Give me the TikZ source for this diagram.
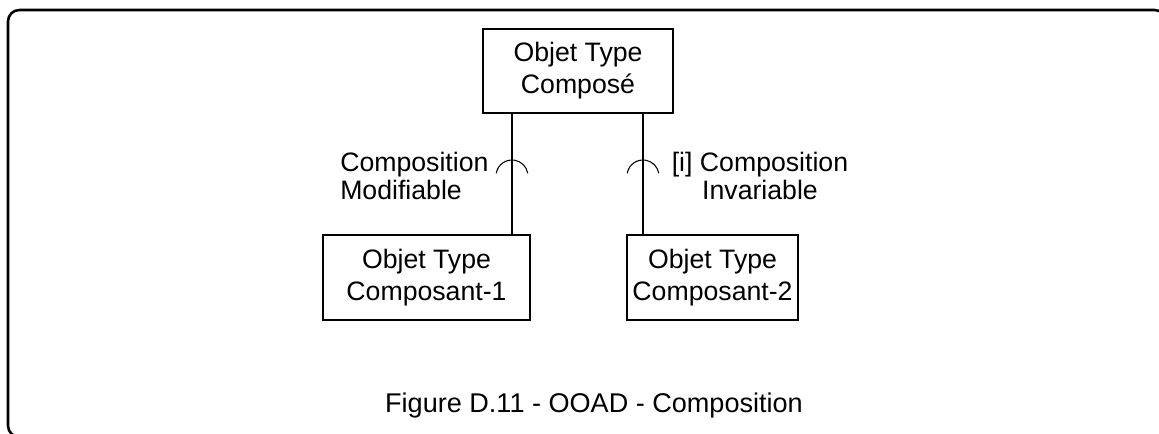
\documentclass[tikz,border=0pt]{standalone}
\usepackage{fontspec}
\setmainfont{Liberation Sans}
\begin{document}
\begin{tikzpicture}[x=0.75pt,y=-0.75pt,
  objbox/.style={draw=black,line width=0.9pt,inner sep=0pt,align=center,
    font=\fontsize{20}{24}\selectfont},
  lbl/.style={inner sep=0pt,font=\fontsize{20}{21}\selectfont},
  conn/.style={draw=black,line width=0.8pt}]
\useasboundingbox (0,0) rectangle (1159,434);
\begin{scope}
\clip (0,0) rectangle (1159,434);
\draw[line width=1.9pt,rounded corners=8.5pt] (8,10) rectangle (1166,437);
\end{scope}
\node[objbox,minimum width=142.5pt,minimum height=63pt] (top) at (578,71) {Objet Type\\Compos\'e};
\node[objbox,minimum width=155.25pt,minimum height=63.75pt] (c1) at (426.5,277.5) {Objet Type\\Composant-1};
\node[objbox,minimum width=128.25pt,minimum height=63.75pt] (c2) at (712.5,277.5) {Objet Type\\Composant-2};
\coordinate (x1) at (512,0);
\coordinate (x2) at (643,0);
\draw[conn] (x1 |- top.south) -- (x1 |- c1.north);
\draw[conn] (x2 |- top.south) -- (x2 |- c2.north);
\coordinate (a1) at (512,176);
\coordinate (a2) at (643,176);
\draw[conn] ([shift={(190:16)}]a1) arc[start angle=190,end angle=350,radius=16];
\draw[conn] ([shift={(190:16)}]a2) arc[start angle=190,end angle=350,radius=16];
\node[lbl,align=left,anchor=west] (l1) at (340,176) {Composition\\Modifiable};
\node[lbl,align=center] (l2) at (760,176) {[i] Composition\\Invariable};
\node[lbl,font=\fontsize{20.3}{22}\selectfont] (cap) at (594,406) {Figure D.11 - OOAD - Composition};
\end{tikzpicture}
\end{document}
